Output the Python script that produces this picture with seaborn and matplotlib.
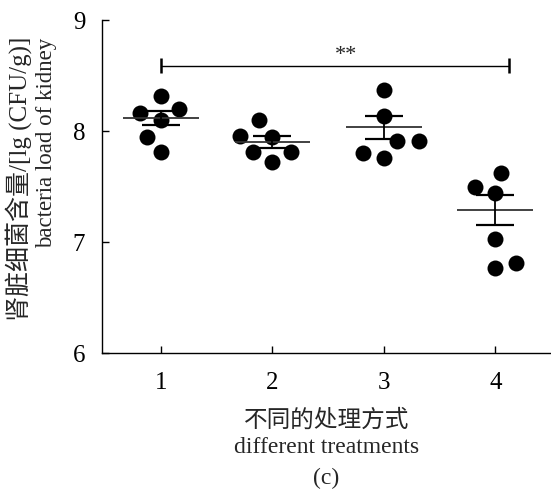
import numpy as np
import pandas as pd
import matplotlib
matplotlib.use("Agg")
import matplotlib.pyplot as plt
import seaborn as sns

# ---- data ----
groups = ["1", "2", "3", "4"]
g1 = [8.32, 8.16, 8.20, 8.10, 7.95, 7.81]
g2 = [7.955, 7.95, 8.10, 7.81, 7.72, 7.81]
g3 = [8.37, 8.14, 7.91, 7.91, 7.80, 7.76]
g4 = [7.62, 7.50, 7.44, 7.03, 6.77, 6.81]
means = [8.12, 7.905, 8.035, 7.285]
sems = [0.065, 0.055, 0.105, 0.135]
yticks = [6, 7, 8, 9]
sig_label = "**"
sig_y = 8.59

df = pd.DataFrame({
    "group": np.repeat(groups, 6),
    "value": g1 + g2 + g3 + g4,
})

sns.set_theme(style="white")
plt.rcParams["font.family"] = ["Liberation Serif", "Noto Sans CJK SC"]
plt.rcParams["axes.unicode_minus"] = False

fig = plt.figure(figsize=(5.51, 4.92), dpi=100)
ax = fig.add_axes([0.185, 0.2825, 0.815, 0.6765])

ax.set_xlim(-0.53, 3.5)
ax.set_ylim(6, 9)

# swarm layout with spacing wider than the dots, then redraw dots smaller
sns.swarmplot(data=df, x="group", y="value", order=groups, color="black",
              size=15, ax=ax, zorder=3)
fig.canvas.draw()
colls = list(ax.collections)
offs = np.vstack([np.array(c.get_offsets()) for c in colls])
for c in colls:
    c.remove()
ax.scatter(offs[:, 0], offs[:, 1], s=11.5 ** 2, color="black",
           linewidths=0, zorder=3)

# mean line and SEM bars
for i, (m, s) in enumerate(zip(means, sems)):
    ax.hlines(m, i - 0.34, i + 0.34, color="#333333", lw=1.3, zorder=4)
    ax.vlines(i, m - s, m + s, color="black", lw=1.3, zorder=4)
    ax.hlines([m - s, m + s], i - 0.17, i + 0.17, color="black", lw=1.6, zorder=4)

# significance bracket
x0, x1 = 0, 3.12
ax.hlines(sig_y, x0, x1, color="black", lw=1.0)
ax.vlines([x0, x1], sig_y - 0.07, sig_y + 0.07, color="black", lw=1.8)
ax.text(1.66, sig_y + 0.01, sig_label, ha="center", va="bottom", fontsize=16)

ax.set_xlim(-0.53, 3.5)
ax.set_ylim(6, 9)
ax.set_xticks(range(len(groups)))
ax.set_xticklabels(groups)
ax.set_yticks(yticks)
ax.set_yticklabels([str(t) for t in yticks])
for sp in ["top", "right"]:
    ax.spines[sp].set_visible(False)
for sp in ["left", "bottom"]:
    ax.spines[sp].set_color("black")
    ax.spines[sp].set_linewidth(1.0)
ax.tick_params(axis="both", direction="in", length=5, width=1.0,
               labelsize=18, colors="black", left=True, bottom=True)
ax.tick_params(axis="y", pad=12)
ax.tick_params(axis="x", pad=14)

ax.set_xlabel("不同的处理方式\ndifferent treatments", fontsize=17,
              linespacing=1.3, labelpad=11)
ax.set_ylabel("")
fig.text(19 / 551, 1 - 37 / 492, "肾脏细菌含量/[lg (CFU/g)]", rotation=90,
         ha="center", va="top", fontsize=18)
fig.text(47 / 551, 1 - 38 / 492, "bacteria load of kidney", rotation=90,
         ha="center", va="top", fontsize=16.5)
fig.text(0.592, 1 - 478 / 492, "(c)", ha="center", va="center", fontsize=17)

fig.savefig("out.png", dpi=100)
